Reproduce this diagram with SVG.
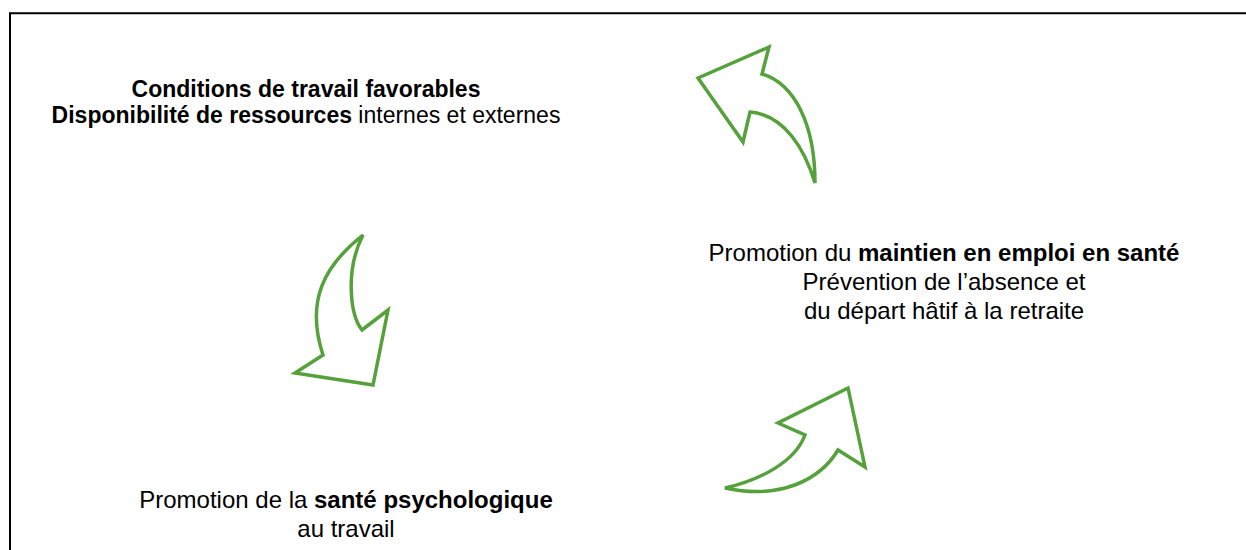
<svg xmlns="http://www.w3.org/2000/svg" width="1246" height="550" viewBox="0 0 1246 550">
<style>
.t{font-family:"Liberation Sans",Arial,sans-serif;font-size:24px;fill:#000;text-anchor:middle}
.s{font-size:23px}
.b{font-weight:bold}
.arr{fill:#fff;stroke:#55a13c;stroke-width:3.5;stroke-linejoin:miter}
</style>
<rect width="1246" height="550" fill="#fff"/>
<path d="M10,550 V13.3 H1246" fill="none" stroke="#000" stroke-width="2"/>
<g id="node-conditions">
<text class="t s" x="306" y="97"><tspan class="b">Conditions de travail favorables</tspan></text>
<text class="t s" x="306" y="123"><tspan class="b">Disponibilité de ressources</tspan> internes et externes</text>
</g>
<g id="node-maintien">
<text class="t" x="944" y="261">Promotion du <tspan class="b">maintien en emploi en santé</tspan></text>
<text class="t" x="944" y="290">Prévention de l’absence et</text>
<text class="t" x="944" y="319">du départ hâtif à la retraite</text>
</g>
<g id="node-sante">
<text class="t" x="346" y="508">Promotion de la <tspan class="b">santé psychologique</tspan></text>
<text class="t" x="346" y="537">au travail</text>
</g>
<g id="connectors">
<path class="arr" d="M698,78 L769,47 L762,74 C795,84 815,125 815,183 C805,150 785,115 750,112 L743,142 Z"/>
<path class="arr" d="M363,235 C325,265 305,300 323,355 L295,373 L373,385 L388,310 L362,330 C350,315 345,270 363,235 Z"/>
<path class="arr" d="M725,488 C760,480 795,462 805,435 L778,423 L848,388 L865,467 L838,450 C820,480 780,500 725,488 Z"/>
</g>
</svg>
